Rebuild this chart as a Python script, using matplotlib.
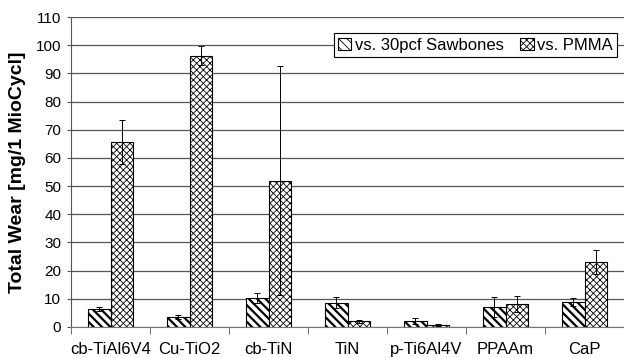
import numpy as np
import matplotlib
matplotlib.use("Agg")
import matplotlib.pyplot as plt

plt.rcParams['font.family'] = ['Liberation Sans', 'DejaVu Sans']

# data
categories = ["cb-TiAl6V4", "Cu-TiO2", "cb-TiN", "TiN", "p-Ti6Al4V", "PPAAm", "CaP"]
sawbones = [6.4, 3.6, 10.2, 8.6, 2.1, 7.1, 9.0]
sawbones_err = [0.7, 0.6, 1.8, 2.0, 1.2, 3.6, 1.4]
pmma = [65.6, 96.3, 51.9, 2.0, 0.6, 8.2, 23.1]
pmma_err = [7.7, 3.5, 40.6, 0.6, 0.3, 2.8, 4.3]
series_names = ["vs. 30pcf Sawbones", "vs. PMMA"]

fig = plt.figure(figsize=(6.24, 3.58), dpi=100)
ax = fig.add_axes([71 / 624, 1 - 327 / 358, 553 / 624, 310 / 358])

x = np.arange(len(categories))
w = 0.29
err_kw = dict(ecolor="black", elinewidth=0.7, capsize=2.5, capthick=0.7)

# hatch width is picked up per bar set when it is created
plt.rcParams['hatch.linewidth'] = 1.6
ax.bar(x - w / 2, sawbones, w, yerr=sawbones_err, color="white", edgecolor="black",
       hatch="\\\\\\\\", linewidth=0.8, label=series_names[0], error_kw=err_kw, zorder=3)
plt.rcParams['hatch.linewidth'] = 0.6
ax.bar(x + w / 2, pmma, w, yerr=pmma_err, color="white", edgecolor="black",
       hatch="xxxxx", linewidth=0.8, label=series_names[1], error_kw=err_kw, zorder=3)

ax.set_xlim(-0.5, len(categories) - 0.5)
ax.set_ylim(0, 110)
ax.set_yticks(np.arange(0, 111, 10))
ax.yaxis.grid(True, color="#555555", linewidth=0.9)
ax.set_axisbelow(True)

ax.set_xticks(x)
ax.set_xticklabels(categories, fontsize=12)
ax.set_xticks(np.arange(-0.5, len(categories), 1), minor=True)
ax.tick_params(axis="x", which="major", length=0, pad=11)
ax.tick_params(axis="x", which="minor", length=5, direction="out", color="#555555")
ax.tick_params(axis="y", labelsize=11, length=3, color="#555555", pad=4)

for s in ["top", "right"]:
    ax.spines[s].set_visible(False)
ax.spines["bottom"].set_color("#777777")
ax.spines["left"].set_color("#555555")

ax.set_ylabel("Total Wear [mg/1 MioCycl]", fontsize=14, fontweight="bold", labelpad=7)

leg = ax.legend(loc="upper right", bbox_to_anchor=(0.987, 0.947), ncol=2, fontsize=12,
                frameon=True, fancybox=False, edgecolor="black", framealpha=1,
                handlelength=0.8, handleheight=0.8, handletextpad=0.2,
                columnspacing=1.0, borderpad=0.25, borderaxespad=0)
leg.get_frame().set_linewidth(0.8)

fig.savefig("out.png", dpi=100)
